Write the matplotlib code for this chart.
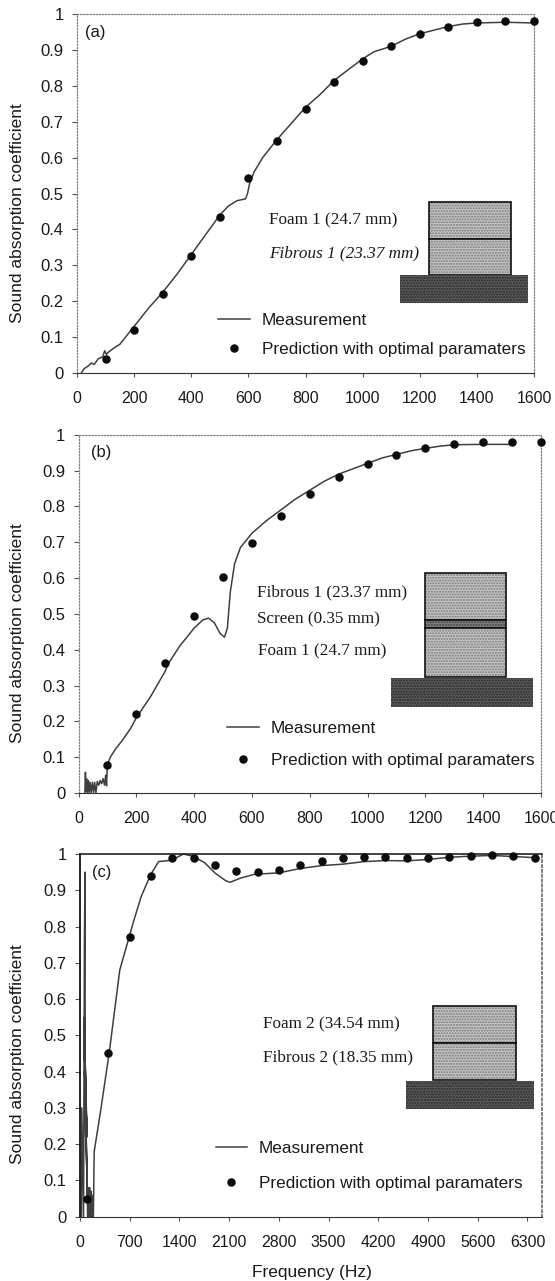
import matplotlib
matplotlib.use('Agg')
import matplotlib.pyplot as plt
from matplotlib.patches import Rectangle

W = 555
H = 1281

# panel (a)
meas_a_x = [15, 25, 40, 50, 60, 75, 90, 97, 103, 110, 130, 150, 175, 200, 250, 300, 350, 400, 450, 500, 530, 560,
            590, 597, 605, 620, 650, 700, 750, 800, 850, 900, 950, 1000, 1040, 1100, 1150, 1200, 1250, 1300, 1350,
            1400, 1500, 1600]
meas_a_y = [0, 0.012, 0.02, 0.028, 0.024, 0.04, 0.045, 0.062, 0.052, 0.058, 0.07, 0.08, 0.105, 0.13, 0.18, 0.225,
            0.275, 0.33, 0.385, 0.44, 0.465, 0.48, 0.485, 0.5, 0.53, 0.56, 0.6, 0.65, 0.695, 0.74, 0.775, 0.815,
            0.845, 0.875, 0.895, 0.91, 0.93, 0.945, 0.955, 0.965, 0.972, 0.975, 0.977, 0.975]
pred_a_x = [100, 200, 300, 400, 500, 600, 700, 800, 900, 1000, 1100, 1200, 1300, 1400, 1500, 1600]
pred_a_y = [0.04, 0.12, 0.22, 0.325, 0.435, 0.543, 0.645, 0.735, 0.81, 0.87, 0.912, 0.945, 0.965, 0.977, 0.98, 0.98]

# panel (b)
meas_b_x = [22, 24, 26, 28, 31, 34, 37, 40, 44, 48, 52, 56, 60, 65, 70, 75, 80, 85, 90, 94, 97, 100, 110, 130, 150,
            180, 200, 250, 300, 310, 350, 400, 430, 450, 470, 490, 505, 515, 525, 540, 560, 580, 600, 650, 700,
            750, 800, 850, 900, 950, 1000, 1050, 1100, 1150, 1200, 1250, 1300, 1400, 1490]
meas_b_y = [0, 0.058, 0.004, 0.04, 0, 0.035, 0.002, 0.03, 0, 0.03, 0.002, 0.03, 0, 0.032, 0.022, 0.035, 0.026, 0.04,
            0.022, 0.05, 0.02, 0.08, 0.1, 0.125, 0.145, 0.18, 0.21, 0.27, 0.34, 0.36, 0.41, 0.46, 0.483, 0.488,
            0.475, 0.445, 0.435, 0.46, 0.56, 0.64, 0.685, 0.705, 0.725, 0.76, 0.79, 0.82, 0.845, 0.87, 0.89, 0.905,
            0.92, 0.935, 0.945, 0.955, 0.962, 0.968, 0.972, 0.973, 0.973]
pred_b_x = [100, 200, 300, 400, 500, 600, 700, 800, 900, 1000, 1100, 1200, 1300, 1400, 1500, 1600]
pred_b_y = [0.079, 0.22, 0.363, 0.493, 0.603, 0.697, 0.773, 0.835, 0.881, 0.917, 0.944, 0.964, 0.974, 0.98, 0.981,
            0.981]

# panel (c)
meas_c_x = [20, 25, 50, 62, 70, 74, 62, 80, 60, 84, 64, 88, 58, 86, 66, 90, 60, 92, 70, 96, 64, 100, 72, 104, 78,
            108, 115, 120, 125, 130, 135, 140, 145, 150, 155, 160, 165, 170, 175, 180, 188, 200, 285, 410, 560, 693,
            760, 860, 992, 1107, 1291, 1456, 1585, 1755, 1904, 2054, 2114, 2253, 2453, 2800, 3100, 3400, 3700,
            4000, 4300, 4600, 4900, 5200, 5500, 5800, 6100, 6400]
meas_c_y = [0, 0.3, 0, 0.75, 0.95, 0.3, 0.55, 0.22, 0.54, 0.24, 0.53, 0.23, 0.52, 0.22, 0.5, 0.25, 0.48, 0.22,
            0.45, 0.25, 0.4, 0.22, 0.38, 0.05, 0.3, 0, 0.08, 0, 0.075, 0.005, 0.08, 0, 0.07, 0.005, 0.07, 0, 0.06,
            0.005, 0.05, 0, 0, 0.18, 0.285, 0.45, 0.68, 0.772, 0.818, 0.882, 0.942, 0.979, 0.983, 1.0, 0.994, 0.976,
            0.947, 0.926, 0.922, 0.933, 0.944, 0.948, 0.96, 0.968, 0.972, 0.979, 0.982, 0.981, 0.985, 0.991, 0.994,
            0.996, 0.993, 0.99]
pred_c_x = [100, 400, 700, 1000, 1300, 1600, 1900, 2200, 2500, 2800, 3100, 3400, 3700, 4000, 4300, 4600, 4900, 5200,
            5500, 5800, 6100, 6400]
pred_c_y = [0.048, 0.45, 0.772, 0.938, 0.989, 0.989, 0.969, 0.954, 0.949, 0.957, 0.969, 0.982, 0.988, 0.993, 0.991,
            0.99, 0.99, 0.993, 0.994, 0.997, 0.994, 0.99]

y_ticks = [0, 0.1, 0.2, 0.3, 0.4, 0.5, 0.6, 0.7, 0.8, 0.9, 1]
y_labels = ['0', '0.1', '0.2', '0.3', '0.4', '0.5', '0.6', '0.7', '0.8', '0.9', '1']
x_ticks_ab = [0, 200, 400, 600, 800, 1000, 1200, 1400, 1600]
x_ticks_c = [0, 700, 1400, 2100, 2800, 3500, 4200, 4900, 5600, 6300]

plt.rcParams['font.family'] = ['Liberation Sans', 'DejaVu Sans']
fig = plt.figure(figsize=(W / 100, H / 100), dpi=100)
fig.patch.set_facecolor('white')


def px(x, y):
    return x / W, 1 - y / H


def make_axes(left, right, top, bottom, xlim, xticks, meas, pred, tag, tag_pos, ylab_y, leg_pos, msize, spacing):
    ax = fig.add_axes([left / W, 1 - bottom / H, (right - left) / W, (bottom - top) / H])
    ax.plot(meas[0], meas[1], color='#3f3f3f', lw=1.1, label='Measurement', clip_on=False)
    ax.plot(pred[0], pred[1], 'o', color='#0c0c0c', ms=msize, mew=0, clip_on=False, zorder=5,
            label='Prediction with optimal paramaters')
    ax.set_xlim(*xlim)
    ax.set_ylim(0, 1)
    ax.set_xticks(xticks)
    ax.set_yticks(y_ticks)
    ax.set_yticklabels(y_labels)
    ax.tick_params(axis='x', labelsize=11.4, length=3, width=0.8, pad=10, color='#555555', labelcolor='#1a1a1a')
    ax.tick_params(axis='y', labelsize=12, length=3.6, width=0.8, pad=6, color='#555555', labelcolor='#1a1a1a')
    for side in ['top', 'right', 'left']:
        ax.spines[side].set_linestyle((0, (1, 1.5)))
        ax.spines[side].set_color('#808080')
        ax.spines[side].set_linewidth(0.9)
    ax.spines['bottom'].set_color('#333333')
    ax.set_ylabel('Sound absorption coefficient', fontsize=12.5, color='#1a1a1a')
    ax.yaxis.set_label_coords(*px(25, ylab_y), transform=fig.transFigure)
    fig.text(*px(*tag_pos), tag, fontsize=11.9, va='center', color='#1a1a1a')
    ax.legend(loc='upper left', bbox_to_anchor=px(*leg_pos), bbox_transform=fig.transFigure, frameon=False,
              fontsize=12.3, borderpad=0, borderaxespad=0, handlelength=1.85, handletextpad=0.7,
              labelspacing=spacing, labelcolor='#1a1a1a')
    return ax


def block(x0, x1, y0, y1, color, hatch_color, lw=1.2):
    fig.add_artist(Rectangle(px(x0, y1), (x1 - x0) / W, (y1 - y0) / H, transform=fig.transFigure, facecolor=color,
                             edgecolor=hatch_color, hatch='......', lw=0))
    fig.add_artist(Rectangle(px(x0, y1), (x1 - x0) / W, (y1 - y0) / H, transform=fig.transFigure, facecolor='none',
                             edgecolor='#111111' if lw else 'none', lw=lw))


def note(x, y, s, style='normal'):
    fig.text(*px(x, y), s, family=['Liberation Serif', 'DejaVu Serif'], fontsize=12.3, style=style, va='center',
             color='#1a1a1a')


make_axes(77, 534, 14, 373, (0, 1600), x_ticks_ab, (meas_a_x, meas_a_y), (pred_a_x, pred_a_y), '(a)', (85, 33),
          213, (218, 313), 6.1, 0.8)
make_axes(78.5, 541, 434.7, 793, (0, 1600), x_ticks_ab, (meas_b_x, meas_b_y), (pred_b_x, pred_b_y), '(b)', (91, 453),
          633, (227, 721), 6.1, 1.0)
ax_c = make_axes(80, 541.7, 854, 1216.7, (0, 6500), x_ticks_c, (meas_c_x, meas_c_y), (pred_c_x, pred_c_y), '(c)',
                 (92, 873), 1054, (215.5, 1141), 6.1, 1.15)
ax_c.spines['top'].set_linestyle('-')
ax_c.spines['top'].set_color('#222222')
ax_c.spines['top'].set_linewidth(1.2)
ax_c.spines['left'].set_linestyle('-')
ax_c.spines['left'].set_color('#111111')
ax_c.spines['left'].set_linewidth(1.3)
ax_c.spines['right'].set_linewidth(1.4)
fig.text(*px(312, 1272), 'Frequency (Hz)', fontsize=12.5, ha='center', va='center', color='#1a1a1a')

# layer sketches
block(429, 511, 202, 239, '#c4c4c4', '#7a7a7a')
block(429, 511, 239, 275, '#c4c4c4', '#7a7a7a')
block(400, 528, 275, 303, '#5a5a5a', '#2a2a2a', lw=0)
note(269, 220, 'Foam 1 (24.7 mm)')
note(269, 253, 'Fibrous 1 (23.37 mm)', style='italic')

block(425, 506, 573, 620, '#c4c4c4', '#7a7a7a')
block(425, 506, 620, 628, '#808080', '#444444')
block(425, 506, 628, 677, '#c4c4c4', '#7a7a7a')
block(391, 533, 678, 707, '#5a5a5a', '#2a2a2a', lw=0)
note(257, 592, 'Fibrous 1 (23.37 mm)')
note(257, 619, 'Screen (0.35 mm)')
note(258, 651, 'Foam 1 (24.7 mm)')

block(433, 516, 1006, 1043, '#c4c4c4', '#7a7a7a')
block(433, 516, 1043, 1080, '#c4c4c4', '#7a7a7a')
block(405.5, 534, 1081, 1109, '#5a5a5a', '#2a2a2a', lw=0)
note(263, 1024, 'Foam 2 (34.54 mm)')
note(263, 1057, 'Fibrous 2 (18.35 mm)')

plt.savefig('out.png', dpi=100)
